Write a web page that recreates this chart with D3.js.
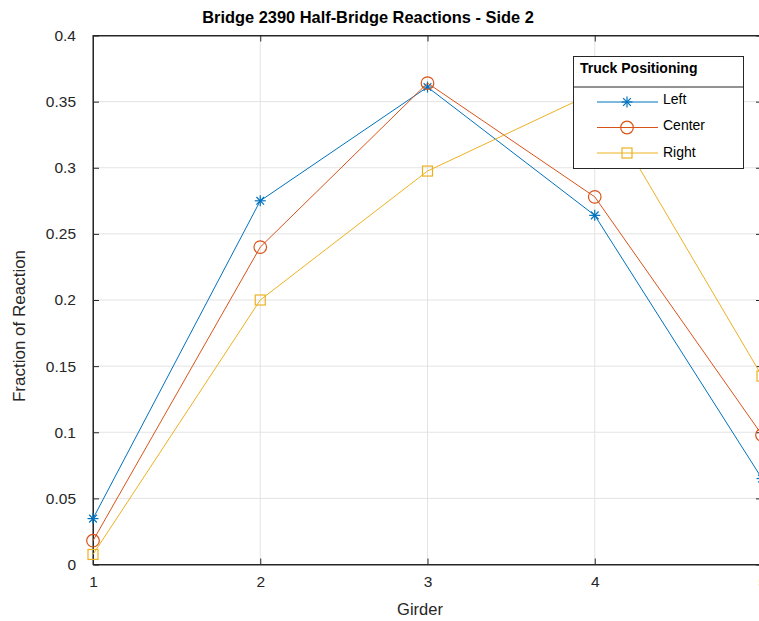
<!DOCTYPE html>
<html>
<head>
<meta charset="utf-8">
<script src="https://cdn.jsdelivr.net/npm/d3@7"></script>
<style>
  body { margin: 0; background: #fff; }
  text { font-family: "Liberation Sans", Arial, sans-serif; }
</style>
</head>
<body>
<div id="chart"></div>
<script>
// Data
const girders = [1, 2, 3, 4, 5];
const leftValues = [0.0347, 0.275, 0.361, 0.264, 0.065];
const centerValues = [0.018, 0.240, 0.364, 0.278, 0.098];
const rightValues = [0.0076, 0.200, 0.2975, 0.357, 0.1425];
const seriesNames = ["Left", "Center", "Right"];
const yTicks = [0, 0.05, 0.1, 0.15, 0.2, 0.25, 0.3, 0.35, 0.4];
const yTickLabels = ["0", "0.05", "0.1", "0.15", "0.2", "0.25", "0.3", "0.35", "0.4"];

const W = 759, H = 621;
const margin = { top: 35.5, left: 93, bottom: 56.5 };
const plotRight = 762; // the right edge of the axes falls just off the picture

const colors = ["#0072BD", "#D95319", "#EDB120"];
const markers = ["star", "circle", "square"];
const series = [leftValues, centerValues, rightValues];

const svg = d3.select("#chart").append("svg")
    .attr("width", W)
    .attr("height", H);

const x = d3.scaleLinear().domain([1, 5]).range([margin.left, plotRight]);
const y = d3.scaleLinear().domain([0, 0.4]).range([H - margin.bottom, margin.top]);

// Grid
const grid = svg.append("g");
grid.selectAll(".gx").data(girders).enter().append("line")
    .attr("x1", d => x(d)).attr("x2", d => x(d))
    .attr("y1", y(0)).attr("y2", y(0.4))
    .attr("stroke", "#e3e3e3").attr("stroke-width", 1);
grid.selectAll(".gy").data(yTicks).enter().append("line")
    .attr("x1", x(1)).attr("x2", x(5))
    .attr("y1", d => y(d)).attr("y2", d => y(d))
    .attr("stroke", "#e3e3e3").attr("stroke-width", 1);

// Box
svg.append("rect")
    .attr("x", x(1)).attr("y", y(0.4))
    .attr("width", x(5) - x(1)).attr("height", y(0) - y(0.4))
    .attr("fill", "none").attr("stroke", "#262626").attr("stroke-width", 1);

// Axes with inward ticks
const xAxis = svg.append("g")
    .attr("transform", `translate(0,${y(0)})`)
    .call(d3.axisBottom(x).tickValues(girders).tickFormat(d3.format("d")).tickSizeInner(-6).tickSizeOuter(0).tickPadding(11));
const xAxisTop = svg.append("g")
    .attr("transform", `translate(0,${y(0.4)})`)
    .call(d3.axisTop(x).tickValues(girders).tickFormat("").tickSizeInner(-6).tickSizeOuter(0));
const yAxis = svg.append("g")
    .attr("transform", `translate(${x(1)},0)`)
    .call(d3.axisLeft(y).tickValues(yTicks).tickFormat((d, i) => yTickLabels[i]).tickSizeInner(-6).tickSizeOuter(0).tickPadding(17));
const yAxisRight = svg.append("g")
    .attr("transform", `translate(${x(5)},0)`)
    .call(d3.axisRight(y).tickValues(yTicks).tickFormat("").tickSizeInner(-6).tickSizeOuter(0));

[xAxis, xAxisTop, yAxis, yAxisRight].forEach(g => {
    g.select(".domain").attr("stroke", "#262626");
    g.selectAll(".tick line").attr("stroke", "#262626");
    g.selectAll(".tick text").attr("fill", "#262626").attr("font-size", 15.5)
        .attr("font-family", "Liberation Sans, Arial, sans-serif");
});

// Marker drawing
function drawMarker(g, type, color, cx, cy) {
    if (type === "star") {
        const r = 5.5;
        [[0, 1], [1, 0], [0.7, 0.7], [0.7, -0.7]].forEach(([dx, dy]) => {
            g.append("line")
                .attr("x1", cx - dx * r).attr("y1", cy - dy * r)
                .attr("x2", cx + dx * r).attr("y2", cy + dy * r)
                .attr("stroke", color).attr("stroke-width", 1.2);
        });
    } else if (type === "circle") {
        g.append("circle").attr("cx", cx).attr("cy", cy).attr("r", 6.3)
            .attr("fill", "none").attr("stroke", color).attr("stroke-width", 1.2);
    } else {
        g.append("rect").attr("x", cx - 5).attr("y", cy - 5).attr("width", 10).attr("height", 10)
            .attr("fill", "none").attr("stroke", color).attr("stroke-width", 1.2);
    }
}

// Lines and markers
const line = d3.line().x((d, i) => x(girders[i])).y(d => y(d));
series.forEach((vals, s) => {
    const g = svg.append("g");
    g.append("path").datum(vals)
        .attr("d", line)
        .attr("fill", "none").attr("stroke", colors[s]).attr("stroke-width", 1);
    vals.forEach((v, i) => drawMarker(g, markers[s], colors[s], x(girders[i]), y(v)));
});

// Legend
const lg = svg.append("g").attr("transform", "translate(573.5,56.5)");
lg.append("rect").attr("width", 170).attr("height", 112)
    .attr("fill", "#fff").attr("stroke", "#262626").attr("stroke-width", 1);
lg.append("line").attr("x1", 0).attr("x2", 170).attr("y1", 30.5).attr("y2", 30.5)
    .attr("stroke", "#262626").attr("stroke-width", 1);
lg.append("text").attr("x", 6.5).attr("y", 16)
    .attr("font-size", 14).attr("font-weight", "bold").attr("fill", "#000")
    .text("Truck Positioning");
seriesNames.forEach((name, s) => {
    const yy = 45.5 + s * 25.5;
    lg.append("line").attr("x1", 23.5).attr("x2", 84.5).attr("y1", yy).attr("y2", yy)
        .attr("stroke", colors[s]).attr("stroke-width", 1);
    drawMarker(lg, markers[s], colors[s], 53.5, yy);
    lg.append("text").attr("x", 89.5).attr("y", 47 + s * 26.6).attr("font-size", 14)
        .attr("fill", "#000").text(name);
});

// Title and labels
svg.append("text").attr("x", 368).attr("y", 22.5).attr("text-anchor", "middle")
    .attr("font-size", 16.4).attr("font-weight", "bold").attr("fill", "#000")
    .text("Bridge 2390 Half-Bridge Reactions - Side 2");
svg.append("text").attr("x", 420).attr("y", 615).attr("text-anchor", "middle")
    .attr("font-size", 16.5).attr("fill", "#262626").text("Girder");
svg.append("text").attr("transform", "translate(25,326) rotate(-90)").attr("text-anchor", "middle")
    .attr("font-size", 17).attr("fill", "#262626").text("Fraction of Reaction");
</script>
</body>
</html>
